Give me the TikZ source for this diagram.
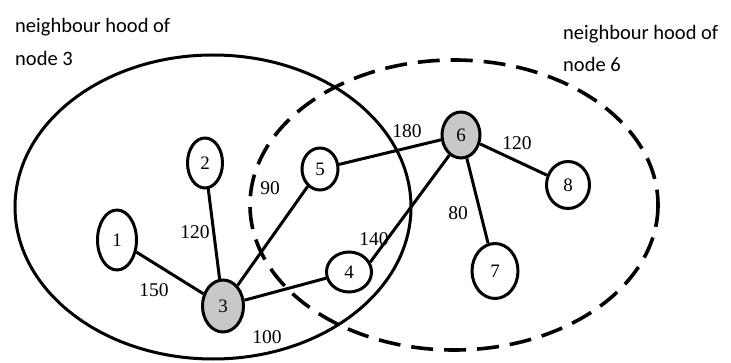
\documentclass[tikz,border=0pt]{standalone}
\usepackage{fontspec}
\setmainfont{Liberation Serif}
\newfontfamily\titlefont{Carlito}
\usetikzlibrary{shapes.geometric}
\definecolor{nodegray}{RGB}{200,200,200}
\tikzset{
  vtx/.style={ellipse, draw=black, line width=3pt, inner sep=0pt, fill=white,
    font=\fontsize{19}{19}\selectfont},
  hub/.style={vtx, fill=nodegray},
  edge/.style={line width=3pt},
  wlabel/.style={inner sep=0pt, font=\fontsize{19.5}{19.5}\selectfont},
  title/.style={inner sep=0pt, anchor=base west, font=\titlefont\fontsize{20.5}{20.5}\selectfont},
  region/.style={line width=3pt},
  dregion/.style={line width=3.6pt, dash pattern=on 22pt off 11pt},
}
\begin{document}
\begin{tikzpicture}[x=1pt,y=-1pt]
\useasboundingbox (0,0) rectangle (731,363);
% neighbourhood regions
\draw[region] (213,207) ellipse [x radius=198, y radius=152];
\draw[dregion] (454,205) ellipse [x radius=204, y radius=145];
% titles
\node[title] (t3a) at (15,33) {neighbour hood of};
\node[title] (t3b) at (15,66) {node 3};
\node[title] (t6a) at (563,40) {neighbour hood of};
\node[title] (t6b) at (563,72) {node 6};
% vertices
\node[vtx, minimum width=39pt, minimum height=60pt] (n1) at (117,240) {1};
\node[vtx, minimum width=35pt, minimum height=50pt] (n2) at (205,163) {2};
\node[hub, minimum width=41pt, minimum height=52pt] (n3) at (223,306) {3};
\node[vtx, minimum width=45pt, minimum height=40pt] (n4) at (349,272) {4};
\node[vtx, minimum width=36pt, minimum height=42pt] (n5) at (320,169) {5};
\node[hub, minimum width=38pt, minimum height=46pt] (n6) at (461,135) {6};
\node[vtx, minimum width=46pt, minimum height=55pt] (n7) at (495,271) {7};
\node[vtx, minimum width=43pt, minimum height=47pt] (n8) at (568,185) {8};
% edges
\draw[edge] (n1) -- (n3);
\draw[edge] (n2) -- (n3);
\draw[edge] (n3) -- (n5);
\draw[edge] (n3) -- (n4);
\draw[edge] (n4.25) -- (n6.240);
\draw[edge] (n5) -- (n6);
\draw[edge] (n6) -- (n8);
\draw[edge] (n6) -- (n7);
% weights
\node[wlabel] (w13) at (154,290) {150};
\node[wlabel] (w23) at (195,232) {120};
\node[wlabel] (w35) at (270,188) {90};
\node[wlabel] (w34) at (267,337) {100};
\node[wlabel] (w46) at (374,239) {140};
\node[wlabel] (w56) at (407,131) {180};
\node[wlabel] (w68) at (517,143) {120};
\node[wlabel] (w67) at (458,213) {80};
\end{tikzpicture}
\end{document}
